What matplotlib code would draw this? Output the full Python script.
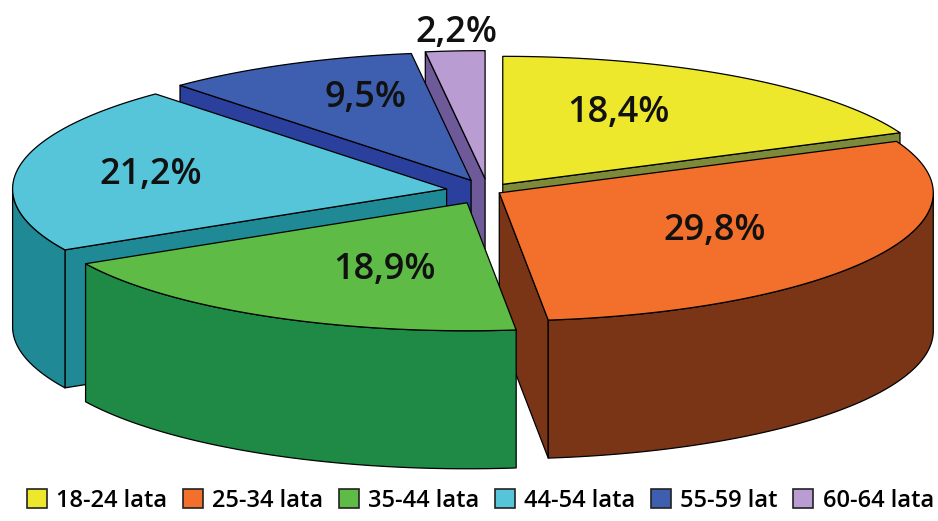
import numpy as np
import matplotlib
matplotlib.use("Agg")
import matplotlib.pyplot as plt
from matplotlib.patches import Polygon, Patch

# ---- data ----
categories = ["18-24 lata", "25-34 lata", "35-44 lata", "44-54 lata", "55-59 lat", "60-64 lata"]
values = [18.4, 29.8, 18.9, 21.2, 9.5, 2.2]
labels = ["18,4%", "29,8%", "18,9%", "21,2%", "9,5%", "2,2%"]

# ---- style ----
top_colors = ["#EEE82C", "#F26F2C", "#5DBB46", "#56C5DA", "#3E5FB0", "#B89CD2"]
side_colors = ["#7D8A3A", "#7A3517", "#1E8A46", "#1F8A96", "#2B3F9C", "#6E5A99"]
explode = [27, 13, 45, 42, 40, 42]
label_r = [0.62, 0.58, 0.56, 0.69, 0.69, 1.14]
label_shift = [7.6, -1.2, 7.7, 0.6, -4.4, -0.6]

W, H = 938, 521
cx, cy = 488, 191
rx, ry = 434, 128
depth = 138
k = ry / rx

FONT = "Open Sans"

fig = plt.figure(figsize=(W / 100, H / 100), dpi=100)
ax = fig.add_axes([0, 0, 1, 1])
ax.set_xlim(0, W)
ax.set_ylim(H, 0)
ax.axis("off")

total = sum(values)
angles = []
a = 90.0
for v in values:
    span = 360.0 * v / total
    angles.append((a, a - span))
    a -= span


def pt(ox, oy, th, r=1.0, dz=0.0):
    t = np.radians(th)
    return (cx + ox + r * rx * np.cos(t), cy + oy - r * ry * np.sin(t) + dz)


slices = []
for i, (a1, a2) in enumerate(angles):
    mid = 0.5 * (a1 + a2)
    m = np.radians(mid)
    ox = explode[i] * np.cos(m)
    oy = -explode[i] * np.sin(m) * k
    slices.append((i, a1, a2, mid, ox, oy))

# painter's order: back to front
order = sorted(slices, key=lambda s: -np.sin(np.radians(s[3])))

lw = 0.9
for i, a1, a2, mid, ox, oy in order:
    vt = (cx + ox, cy + oy)
    vb = (cx + ox, cy + oy + depth)
    # cut faces
    for th, visible in ((a1, np.cos(np.radians(a1)) < -1e-6), (a2, np.cos(np.radians(a2)) > 1e-6)):
        if visible:
            et = pt(ox, oy, th)
            eb = pt(ox, oy, th, dz=depth)
            ax.add_patch(Polygon([vt, et, eb, vb], closed=True, fc=side_colors[i],
                                 ec="black", lw=lw, joinstyle="round"))
    # outer wall (front half)
    lo, hi = a2, a1
    segs = []
    for shift in (-360, 0, 360):
        s0 = max(lo, -180 + shift)
        s1 = min(hi, 0 + shift)
        if s1 > s0:
            segs.append((s0, s1))
    for s0, s1 in segs:
        ths = np.linspace(s0, s1, 80)
        top = [pt(ox, oy, t) for t in ths]
        bot = [pt(ox, oy, t, dz=depth) for t in ths[::-1]]
        ax.add_patch(Polygon(top + bot, closed=True, fc=side_colors[i],
                             ec="black", lw=lw, joinstyle="round"))
    # top face
    ths = np.linspace(a1, a2, 120)
    poly = [vt] + [pt(ox, oy, t) for t in ths]
    ax.add_patch(Polygon(poly, closed=True, fc=top_colors[i], ec="black", lw=lw,
                         joinstyle="round"))

# labels
for i, a1, a2, mid, ox, oy in slices:
    x, y = pt(ox, oy, mid + label_shift[i], r=label_r[i])
    ax.text(x, y, labels[i], ha="center", va="center", fontsize=26,
            fontfamily=FONT, fontweight="semibold", color="#111111")

handles = [Patch(fc=top_colors[i], ec="#222222", lw=1.2) for i in range(len(categories))]
fig.legend(handles, categories, loc="center", bbox_to_anchor=(0.512, 1 - 501 / H),
           ncol=6, frameon=False, prop={"family": FONT, "weight": "semibold", "size": 17},
           handlelength=0.85, handleheight=0.85, handletextpad=0.4, columnspacing=0.65,
           borderpad=0)

fig.savefig("out.png", dpi=100)
